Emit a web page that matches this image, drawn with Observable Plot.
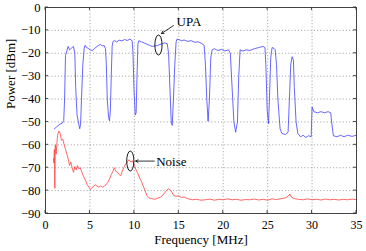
<!DOCTYPE html>
<html>
<head>
<meta charset="utf-8">
<script src="https://cdn.jsdelivr.net/npm/d3@7"></script>
<script src="https://cdn.jsdelivr.net/npm/@observablehq/plot@0.6"></script>
<style>
  html, body { margin: 0; padding: 0; background: #fff; }
  svg, svg text { font-family: "Liberation Serif", "Times New Roman", Times, serif !important; }
</style>
</head>
<body>
<div id="chart"></div>
<script>
// UPA spectrum (MHz, dBm)
const upaFreq = [1.0,1.3,1.6,1.9,2.05,2.15,2.25,2.4,2.55,2.7,2.85,3.0,3.15,3.3,3.4,3.55,3.7,3.85,3.95,4.05,4.2,4.35,4.45,4.6,4.8,5.0,5.25,5.5,5.8,6.0,6.2,6.4,6.6,6.75,6.85,6.95,7.1,7.2,7.3,7.4,7.5,7.6,7.8,8.0,8.3,8.6,8.9,9.2,9.5,9.75,9.85,9.95,10.1,10.2,10.3,10.4,10.5,10.8,11.1,11.4,11.7,12.0,12.3,12.6,13.0,13.4,13.7,13.85,14.0,14.15,14.26,14.4,14.55,14.7,14.8,15.0,15.3,15.6,16.0,16.4,16.8,17.2,17.6,17.85,18.0,18.15,18.3,18.45,18.6,18.75,19.0,19.4,19.8,20.2,20.6,20.8,21.0,21.2,21.4,21.6,21.75,21.9,22.2,22.6,23.0,23.5,24.0,24.5,24.7,24.8,24.95,25.1,25.2,25.35,25.5,25.7,25.85,26.0,26.15,26.4,26.6,27.0,27.3,27.45,27.6,27.75,27.9,28.0,28.2,28.4,28.7,29.0,29.3,29.6,29.9,30.0,30.2,30.6,31.0,31.4,31.8,32.1,32.2,32.4,32.8,33.2,33.6,34.0,34.5,35.0];
const upaPower = [-53,-52,-51,-50.5,-49.5,-40,-21,-19,-17,-18.5,-18,-17.5,-17,-20,-35,-47,-50,-53,-51,-40,-25,-18,-16.5,-17.5,-17.8,-18.5,-18.8,-18,-17,-16.5,-16.2,-16.8,-16.6,-18,-25,-40,-48,-49.5,-45,-30,-17,-14.8,-14.5,-15,-14.3,-14.6,-14,-14.4,-13.8,-14.5,-20,-35,-47,-46,-30,-16,-14.5,-15,-15.5,-16,-16.5,-17,-16.8,-16.6,-16,-15.5,-15.8,-20,-35,-50,-51.5,-40,-25,-15,-13.8,-14,-14.5,-14.2,-14.8,-14.5,-15.2,-15,-15.8,-16.5,-25,-40,-49.7,-40,-22,-18.5,-18,-18.8,-18.3,-19,-18.5,-20,-35,-50,-54.5,-50,-30,-18.5,-19,-18.5,-18.8,-18,-17.5,-17,-17.5,-25,-45,-50.8,-40,-22,-17.5,-17.8,-18.5,-25,-40,-53,-55,-55.5,-54.5,-40,-25,-21.5,-23,-35,-50,-55,-56.5,-55.8,-56.8,-56,-56.5,-43.5,-45.5,-46,-45.5,-46,-45.5,-46,-50,-56,-56.5,-55.8,-56.5,-55.8,-56.3,-55.8];

// Noise spectrum (MHz, dBm)
const noiseFreq = [0.9,0.95,1.0,1.05,1.1,1.2,1.35,1.5,1.65,1.8,1.95,2.1,2.25,2.4,2.55,2.7,2.85,3.0,3.15,3.3,3.45,3.6,3.75,3.9,4.1,4.3,4.5,4.7,4.9,5.05,5.2,5.4,5.6,5.8,6.0,6.2,6.4,6.6,6.8,7.0,7.2,7.4,7.6,7.75,7.9,8.1,8.3,8.45,8.6,8.8,9.0,9.2,9.4,9.6,9.8,10.0,10.2,10.4,10.6,10.8,11.0,11.2,11.4,11.6,11.8,12.0,12.3,12.6,12.9,13.2,13.5,13.8,14.0,14.2,14.4,14.7,15.0,15.3,15.6,16.0,16.5,17.0,17.5,18,18.5,19,19.5,20,20.5,21,21.5,22,22.5,23,23.5,24,24.5,25,25.5,26,26.5,27,27.3,27.5,27.7,28,28.5,29,29.5,30,30.5,31,31.5,32,32.5,33,33.5,34,34.5,35];
const noisePower = [-66,-68,-62,-79,-60,-64,-56,-54,-55,-58,-57.5,-60,-62,-64,-66,-69,-67.5,-70,-72,-69.5,-71,-69,-70.5,-70,-72,-74,-75.5,-77.5,-78.5,-79.5,-79,-78,-77.5,-78,-78.5,-78,-78.5,-78,-77.5,-76.5,-75,-73,-71.5,-70,-71.5,-72,-73,-73.5,-72,-70,-68.5,-67.5,-66.5,-67.5,-67,-69,-71,-72.5,-74.5,-76,-78,-80,-82,-83,-83.5,-83.5,-83.8,-83.3,-83,-82,-80.5,-79.2,-79.5,-80.5,-82,-82.5,-82.3,-83,-82.8,-83.5,-84,-83.8,-84.2,-84,-83.7,-84.2,-83.8,-84,-83.6,-84,-83.8,-84.2,-83.9,-84,-83.7,-84.1,-83.8,-84.2,-83.6,-83.9,-83.5,-83.2,-82.5,-81.5,-83,-83.5,-83.8,-84,-83.6,-84,-83.8,-84.1,-83.7,-84,-83.8,-84.1,-83.8,-84,-83.7,-84];

const xTicks = [0,5,10,15,20,25,30,35];
const yTicks = [0,-10,-20,-30,-40,-50,-60,-70,-80,-90];

// annotations (data coords)
const labelNames = ["UPA", "Noise"];
const labelX = [14.75, 12.45];
const labelY = [-6.2, -67.3];
const arrowX1 = [14.4, 12.25];
const arrowY1 = [-7.9, -67.1];
const arrowX2 = [13.05, 10.15];
const arrowY2 = [-11.4, -67.1];
const ellipseX = [12.77, 9.6];
const ellipseY = [-16.6, -67.3];

const upa = upaFreq.map((f, i) => ({f, p: upaPower[i]}));
const noise = noiseFreq.map((f, i) => ({f, p: noisePower[i]}));
const labels = labelNames.map((t, i) => ({t, x: labelX[i], y: labelY[i]}));
const arrows = arrowX1.map((x1, i) => ({x1, y1: arrowY1[i], x2: arrowX2[i], y2: arrowY2[i]}));

const gridStyle = {stroke: "#888", strokeOpacity: 1, strokeWidth: 0.7, strokeDasharray: "1.2,2"};

const chart = Plot.plot({
  width: 366,
  height: 251,
  marginLeft: 45,
  marginRight: 10,
  marginTop: 7,
  marginBottom: 38,
  style: {fontSize: "12.5px", background: "#fff", color: "#000"},
  x: {type: "linear", domain: [0, 35]},
  y: {type: "linear", domain: [-90, 0]},
  marks: [
    Plot.gridX(xTicks, gridStyle),
    Plot.gridY(yTicks, gridStyle),
    Plot.line(upa, {x: "f", y: "p", stroke: "#4040ff", strokeWidth: 0.8}),
    Plot.line(noise, {x: "f", y: "p", stroke: "#ff4040", strokeWidth: 0.8}),
    Plot.frame({stroke: "#333", strokeWidth: 0.9}),
    Plot.axisX(xTicks, {anchor: "bottom", tickSize: 0, tickPadding: 7, label: null, fill: "#000", fontSize: 12}),
    Plot.axisY(yTicks, {anchor: "left", tickSize: 0, tickPadding: 5, label: null, fill: "#000"}),
    Plot.text(["Frequency [MHz]"], {frameAnchor: "bottom", dy: 30, fontSize: 13, letterSpacing: 0.8}),
    Plot.text(["Power [dBm]"], {frameAnchor: "left", rotate: -90, dx: -35, dy: -1.5, fontSize: 13}),
    Plot.arrow(arrows, {x1: "x1", y1: "y1", x2: "x2", y2: "y2", stroke: "#000", strokeWidth: 0.8, headLength: 5}),
    Plot.text(labels, {x: "x", y: "y", text: "t", textAnchor: "start", fontSize: 13})
  ]
});

const sx = chart.scale("x"), sy = chart.scale("y");
const svg = d3.select(chart);
const x0 = sx.apply(0), x35 = sx.apply(35), yTop = sy.apply(0), yBot = sy.apply(-90);
const tg = svg.append("g").attr("stroke", "#333").attr("stroke-width", 0.9);
xTicks.forEach(t => {
  const px = sx.apply(t);
  tg.append("line").attr("x1", px).attr("x2", px).attr("y1", yBot).attr("y2", yBot - 3);
  tg.append("line").attr("x1", px).attr("x2", px).attr("y1", yTop).attr("y2", yTop + 3);
});
yTicks.forEach(t => {
  const py = sy.apply(t);
  tg.append("line").attr("x1", x0).attr("x2", x0 + 3).attr("y1", py).attr("y2", py);
  tg.append("line").attr("x1", x35).attr("x2", x35 - 3).attr("y1", py).attr("y2", py);
});
const eg = svg.append("g").attr("fill", "none").attr("stroke", "#000").attr("stroke-width", 0.9);
ellipseX.forEach((ex, i) => {
  eg.append("ellipse").attr("cx", sx.apply(ex)).attr("cy", sy.apply(ellipseY[i])).attr("rx", 3.6).attr("ry", 10);
});

document.getElementById("chart").appendChild(chart);
</script>
</body>
</html>
